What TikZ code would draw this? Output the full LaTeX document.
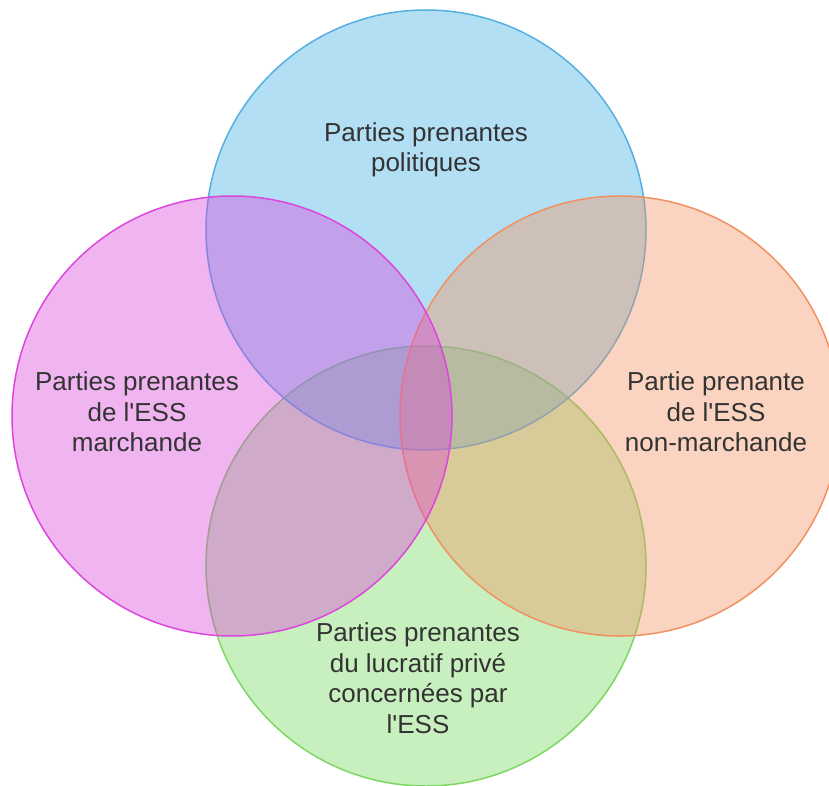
\documentclass[tikz,border=0pt]{standalone}
\usepackage{fontspec}
\setmainfont{Liberation Sans}
\definecolor{cblue}{RGB}{65,175,230}
\definecolor{cbluel}{RGB}{85,175,225}
\definecolor{cpink}{RGB}{218,68,218}
\definecolor{cpinkl}{RGB}{220,70,220}
\definecolor{corange}{RGB}{242,147,97}
\definecolor{corangel}{RGB}{240,145,95}
\definecolor{cgreen}{RGB}{117,217,92}
\definecolor{cgreenl}{RGB}{125,215,100}
\definecolor{ctext}{RGB}{51,51,51}
\newcommand{\apos}{\textquotesingle}
\begin{document}
\begin{tikzpicture}[x=1pt,y=-1pt,
  venn/.style={circle, minimum size=440pt, inner sep=0pt, line width=1.5pt, fill opacity=0.4},
  lab/.style={text=ctext, align=center, font=\fontsize{26}{30.5}\selectfont}]
\useasboundingbox (0,0) rectangle (829,786);
\begin{scope}
\clip (0,0) rectangle (829,786);
\node[venn, fill=cgreen, draw=cgreenl] (luc) at (426,566) {};
\node[venn, fill=cblue, draw=cbluel] (pol) at (426,230) {};
\node[venn, fill=corange, draw=corangel] (nonmar) at (620,416) {};
\node[venn, fill=cpink, draw=cpinkl] (mar) at (232,416) {};
\end{scope}
\node[lab] (tpol) at (426,150) {Parties prenantes\\politiques};
\node[lab] (tmar) at (137,412) {Parties prenantes\\de l\apos ESS\\marchande};
\node[lab] (tnon) at (716,412) {Partie prenante\\de l\apos ESS\\non-marchande};
\node[lab] (tluc) at (418,678) {Parties prenantes\\du lucratif privé\\concernées par\\l\apos ESS};
\end{tikzpicture}
\end{document}
